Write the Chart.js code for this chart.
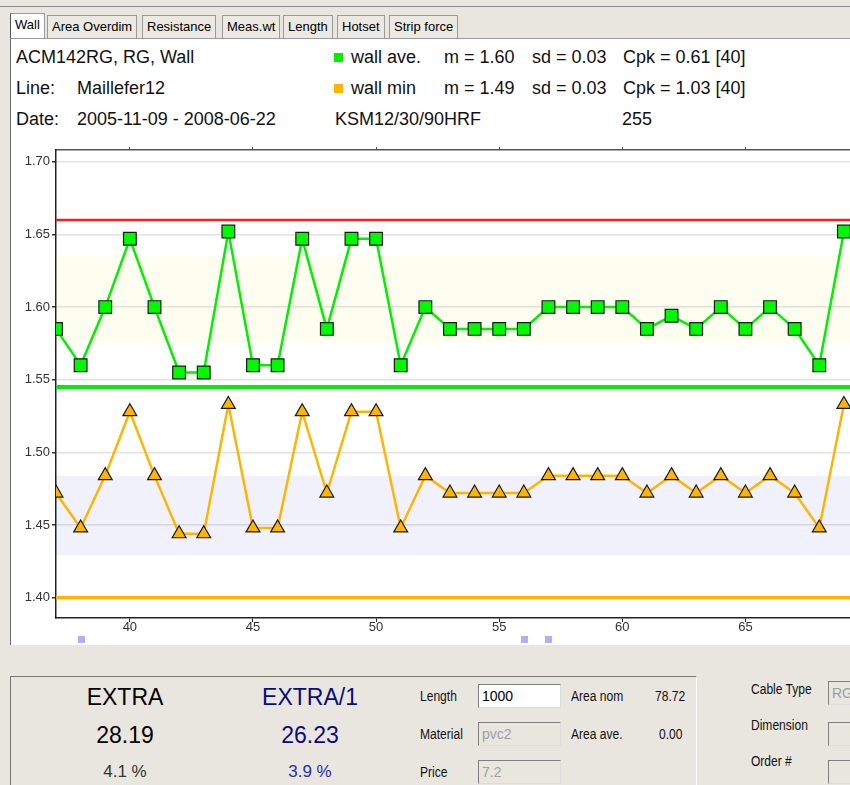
<!DOCTYPE html>
<html>
<head>
<meta charset="utf-8">
<script src="https://cdn.jsdelivr.net/npm/chart.js@4.4.1/dist/chart.umd.min.js"></script>
<style>
    body { margin: 0; width: 850px; height: 785px; overflow: hidden; background: #e9e6df; font-family: "Liberation Sans", Arial, sans-serif; position: relative; }
    .abs { position: absolute; white-space: nowrap; }
    .topline { left: 0; top: 6px; width: 850px; height: 1px; background: #8a8a8a; }
    .tab { top: 15px; height: 22px; line-height: 22px; font-size: 13px; color: #000; padding: 0 4px; border: 1px solid #9a9a9a; border-bottom: none; background: #ece9e2; }
    .tab.on { background: #fff; top: 13px; height: 25px; border-left-color: #555; }
    .panel { left: 10px; top: 38px; width: 840px; height: 606px; background: #fff; border-left: 1px solid #6b6b6b; border-top: 1px solid #9a9a9a; }
    .hdr { font-size: 18px; color: #111; line-height: 20px; }
    .sw { width: 9px; height: 9px; }
    .box { border: 1px solid #7f7f7f; border-right-color: #ddd; border-bottom-color: #ddd; height: 22px; line-height: 22px; font-size: 14px; padding-left: 3px; }
    .lbl { font-size: 14px; color: #111; transform: scaleX(0.86); transform-origin: left center; }
    #chartBox { position: absolute; left: 11px; top: 140px; width: 850px; height: 504px; }
</style>
</head>
<body>
<div class="abs topline"></div>
<div class="abs tab on" style="left:10px;">Wall</div>
<div class="abs tab" style="left:47px;">Area Overdim</div>
<div class="abs tab" style="left:142px;">Resistance</div>
<div class="abs tab" style="left:222px;">Meas.wt</div>
<div class="abs tab" style="left:283px;">Length</div>
<div class="abs tab" style="left:337px;">Hotset</div>
<div class="abs tab" style="left:389px;">Strip force</div>

<div class="abs panel"></div>
<div class="abs hdr" style="left:16px; top:47px;">ACM142RG, RG, Wall</div>
<div class="abs hdr" style="left:16px; top:78px;">Line:</div>
<div class="abs hdr" style="left:77px; top:78px;">Maillefer12</div>
<div class="abs hdr" style="left:16px; top:109px;">Date:</div>
<div class="abs hdr" style="left:77px; top:109px;">2005-11-09 - 2008-06-22</div>

<div class="abs sw" style="left:334px; top:53px; background:#00ee00;"></div>
<div class="abs hdr" style="left:351px; top:47px;">wall ave.</div>
<div class="abs hdr" style="left:444px; top:47px;">m = 1.60</div>
<div class="abs hdr" style="left:532px; top:47px;">sd = 0.03</div>
<div class="abs hdr" style="left:623px; top:47px;">Cpk = 0.61 [40]</div>
<div class="abs sw" style="left:334px; top:84px; background:#ffb400;"></div>
<div class="abs hdr" style="left:351px; top:78px;">wall min</div>
<div class="abs hdr" style="left:444px; top:78px;">m = 1.49</div>
<div class="abs hdr" style="left:532px; top:78px;">sd = 0.03</div>
<div class="abs hdr" style="left:623px; top:78px;">Cpk = 1.03 [40]</div>
<div class="abs hdr" style="left:335px; top:109px;">KSM12/30/90HRF</div>
<div class="abs hdr" style="left:622px; top:109px;">255</div>

<div id="chartBox"><canvas id="wallChart"></canvas></div>

<!-- bottom summary panel -->
<div class="abs" style="left:10px; top:676px; width:685px; height:120px; border-top:1px solid #777; border-left:1px solid #777; border-right:1px solid #fff;"></div>
<div class="abs" style="left:60px; width:130px; top:684px; text-align:center; font-size:23px; color:#000;">EXTRA</div>
<div class="abs" style="left:60px; width:130px; top:722px; text-align:center; font-size:23px; color:#000;">28.19</div>
<div class="abs" style="left:60px; width:130px; top:762px; text-align:center; font-size:17px; color:#333;">4.1 %</div>
<div class="abs" style="left:245px; width:130px; top:684px; text-align:center; font-size:23px; color:#0a0a80;">EXTRA/1</div>
<div class="abs" style="left:245px; width:130px; top:722px; text-align:center; font-size:23px; color:#0a0a80;">26.23</div>
<div class="abs" style="left:245px; width:130px; top:762px; text-align:center; font-size:17px; color:#2a2ab0;">3.9 %</div>

<div class="abs lbl" style="left:420px; top:688px;">Length</div>
<div class="abs box" style="left:478px; top:684px; width:78px; background:#fff; color:#000;">1000</div>
<div class="abs lbl" style="left:571px; top:688px;">Area nom</div>
<div class="abs lbl" style="left:655px; top:688px;">78.72</div>
<div class="abs lbl" style="left:420px; top:726px;">Material</div>
<div class="abs box" style="left:478px; top:722px; width:78px; color:#a0a0a0;">pvc2</div>
<div class="abs lbl" style="left:571px; top:726px;">Area ave.</div>
<div class="abs lbl" style="left:659px; top:726px;">0.00</div>
<div class="abs lbl" style="left:420px; top:764px;">Price</div>
<div class="abs box" style="left:478px; top:760px; width:78px; color:#a0a0a0;">7.2</div>

<div class="abs lbl" style="left:751px; top:681px;">Cable Type</div>
<div class="abs box" style="left:828px; top:681px; width:40px; color:#a0a0a0;">RG</div>
<div class="abs lbl" style="left:751px; top:717px;">Dimension</div>
<div class="abs box" style="left:828px; top:722px; width:40px;"></div>
<div class="abs lbl" style="left:751px; top:753px;">Order #</div>
<div class="abs box" style="left:828px; top:760px; width:40px;"></div>

<script>
// sample numbers along the x axis
const samples = [37, 38, 39, 40, 41, 42, 43, 44, 45, 46, 47, 48, 49, 50, 51, 52, 53,
    54, 55, 56, 57, 58, 59, 60, 61, 62, 63, 64, 65, 66, 67, 68, 69];

const wallAve = [1.585, 1.56, 1.60, 1.647, 1.60, 1.555, 1.555, 1.652, 1.56, 1.56, 1.647,
    1.585, 1.647, 1.647, 1.56, 1.60, 1.585, 1.585, 1.585, 1.585, 1.60, 1.60, 1.60, 1.60,
    1.585, 1.594, 1.585, 1.60, 1.585, 1.60, 1.585, 1.56, 1.652];

const wallMin = [1.472, 1.448, 1.484, 1.528, 1.484, 1.444, 1.444, 1.533, 1.448, 1.448, 1.528,
    1.472, 1.528, 1.528, 1.448, 1.484, 1.472, 1.472, 1.472, 1.472, 1.484, 1.484, 1.484, 1.484,
    1.472, 1.484, 1.472, 1.484, 1.472, 1.484, 1.472, 1.448, 1.533];

// limits and bands
const upperLimit = 1.66;
const aveLowerLimit = 1.545;
const minLowerLimit = 1.40;
const aveBand = [1.575, 1.635];
const minBand = [1.429, 1.484];

// flagged samples shown under the axis
const flagSamples = [38, 56, 57];
const flagLevel = 1.3715;

const xTicks = [40, 45, 50, 55, 60, 65];
const yTicks = [1.40, 1.45, 1.50, 1.55, 1.60, 1.65, 1.70];
const xMin = 37, xMax = 69.28;
const yMin = 1.386, yMax = 1.708;

function hLine(y) {
    return [{ x: xMin, y: y }, { x: xMax, y: y }];
}

// the flag marks sit below the plot area, so Chart.js would skip them as points
const flagMarks = {
    id: 'flagMarks',
    afterDraw(chart) {
        const c = chart.ctx;
        const xs = chart.scales.x, ys = chart.scales.y;
        c.save();
        c.fillStyle = '#bcaaf8';
        flagSamples.forEach(s => {
            const px = xs.getPixelForValue(s);
            const py = ys.getPixelForValue(flagLevel);
            c.fillRect(Math.round(px) - 3, Math.round(py) - 3, 7, 7);
        });
        c.restore();
    }
};

const ctx = document.getElementById('wallChart').getContext('2d');

new Chart(ctx, {
    type: 'line',
    data: {
        datasets: [{
            label: 'wall ave.',
            data: samples.map((s, i) => ({ x: s, y: wallAve[i] })),
            borderColor: '#00f000',
            borderWidth: 2.5,
            pointStyle: 'rect',
            pointRadius: 9,
            pointBackgroundColor: '#00f800',
            pointBorderColor: '#1a1a1a',
            pointBorderWidth: 1.2,
            order: 1
        }, {
            label: 'wall min',
            data: samples.map((s, i) => ({ x: s, y: wallMin[i] })),
            borderColor: '#ffb400',
            borderWidth: 2.5,
            pointStyle: 'triangle',
            pointRadius: 8,
            pointBackgroundColor: '#ffb400',
            pointBorderColor: '#1a1a1a',
            pointBorderWidth: 1.2,
            order: 2
        }, {
            label: 'upper limit',
            data: hLine(upperLimit),
            borderColor: '#ff1a1a',
            borderWidth: 2.5,
            pointRadius: 0,
            order: 5
        }, {
            label: 'ave lower limit',
            data: hLine(aveLowerLimit),
            borderColor: '#00ee00',
            borderWidth: 4,
            pointRadius: 0,
            order: 5
        }, {
            label: 'min lower limit',
            data: hLine(minLowerLimit),
            borderColor: '#ffb400',
            borderWidth: 3.5,
            pointRadius: 0,
            order: 5
        }, {
            label: 'ave band',
            data: hLine(aveBand[1]),
            borderWidth: 0,
            pointRadius: 0,
            fill: { value: aveBand[0] },
            backgroundColor: 'rgba(235,235,0,0.06)',
            order: 9
        }, {
            label: 'min band',
            data: hLine(minBand[1]),
            borderWidth: 0,
            pointRadius: 0,
            fill: { value: minBand[0] },
            backgroundColor: 'rgba(0,0,205,0.055)',
            order: 9
        }]
    },
    options: {
        responsive: true,
        maintainAspectRatio: false,
        animation: false,
        layout: { padding: { top: 10, left: 0, right: 0, bottom: 0 } },
        plugins: {
            legend: { display: false },
            tooltip: { enabled: false }
        },
        scales: {
            x: {
                type: 'linear',
                min: xMin,
                max: xMax,
                afterBuildTicks: (scale) => { scale.ticks = xTicks.map(v => ({ value: v })); },
                afterFit: (scale) => { scale.height = 26; },
                grid: { drawOnChartArea: false, tickLength: 4, tickColor: '#222' },
                border: { color: '#222', width: 1.5 },
                ticks: { color: '#333', padding: -2, font: { size: 13, family: 'Liberation Sans' } }
            },
            xTop: {
                type: 'linear',
                position: 'top',
                min: xMin,
                max: xMax,
                afterBuildTicks: (scale) => { scale.ticks = xTicks.map(v => ({ value: v })); },
                afterFit: (scale) => { scale.height = 0; },
                grid: { drawOnChartArea: false, tickLength: 3, tickColor: '#444' },
                border: { color: '#555', width: 1.5 },
                ticks: { display: false }
            },
            y: {
                min: yMin,
                max: yMax,
                afterBuildTicks: (scale) => { scale.ticks = yTicks.map(v => ({ value: v })); },
                afterFit: (scale) => { scale.width = 45; },
                grid: { color: '#e2e2e2', lineWidth: 1.5, tickLength: 4, tickColor: '#333' },
                border: { color: '#222', width: 1.5 },
                ticks: {
                    color: '#333',
                    padding: 2,
                    font: { size: 13, family: 'Liberation Sans' },
                    callback: (v) => v.toFixed(2)
                }
            }
        }
    },
    plugins: [flagMarks]
});
</script>
</body>
</html>
